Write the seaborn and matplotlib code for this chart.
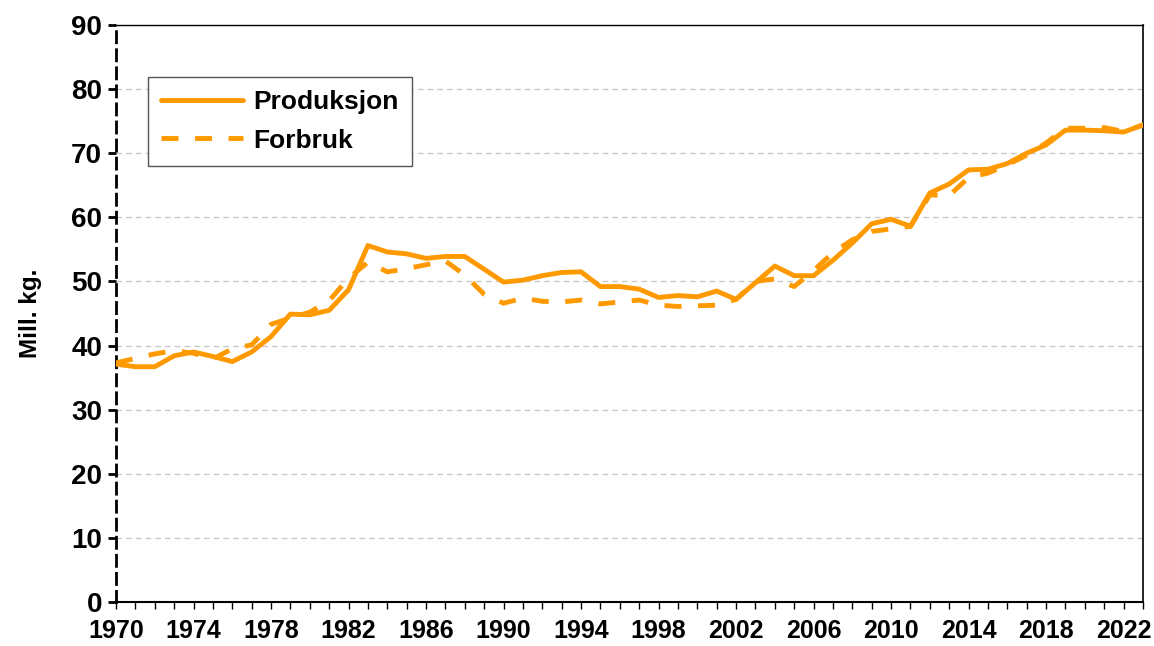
import numpy as np
import pandas as pd
import matplotlib
matplotlib.use("Agg")
import matplotlib.pyplot as plt
from matplotlib.ticker import MultipleLocator
from matplotlib.lines import Line2D
import seaborn as sns

years = list(range(1970, 2024))
produksjon = [37.1, 36.7, 36.7, 38.4, 39.0, 38.3, 37.5, 39.0, 41.4, 44.9,
              44.8, 45.5, 48.7, 55.6, 54.6, 54.3, 53.6, 53.9, 53.9, 51.9,
              49.9, 50.2, 50.9, 51.4, 51.5, 49.2, 49.2, 48.8, 47.5, 47.8,
              47.6, 48.5, 47.2, 49.8, 52.4, 50.9, 50.9, 53.3, 56.0, 59.0,
              59.7, 58.6, 63.8, 65.2, 67.4, 67.5, 68.4, 70.0, 71.3, 73.6,
              73.6, 73.5, 73.3, 74.4]
forbruk = [37.3, 38.0, 38.7, 39.2, 38.8, 37.9, 39.5, 40.1, 43.3, 44.3,
           45.2, 47.0, 50.5, 53.0, 51.5, 52.0, 52.6, 53.2, 51.0, 48.0,
           46.6, 47.4, 46.9, 46.8, 47.1, 46.5, 46.8, 47.1, 46.3, 46.1,
           46.2, 46.3, 47.2, 50.0, 50.4, 49.2, 51.7, 54.5, 56.5, 57.8,
           58.2, 58.6, 63.5, 63.4, 66.2, 66.9, 68.2, 69.7, 71.6, 73.9,
           73.9, 74.0, 73.4, 74.4]
series_names = ["Produksjon", "Forbruk"]
y_ticks = list(range(0, 100, 10))
x_ticks = list(range(1970, 2024, 4))

df = pd.DataFrame({
    "År": years * 2,
    "Verdi": produksjon + forbruk,
    "Serie": [series_names[0]] * len(years) + [series_names[1]] * len(years),
})

sns.set_style("white")
plt.rcParams["font.family"] = ["Liberation Sans", "DejaVu Sans"]
plt.rcParams["font.weight"] = "bold"
plt.rcParams["text.color"] = "black"
plt.rcParams["axes.labelcolor"] = "black"
plt.rcParams["xtick.color"] = "black"
plt.rcParams["ytick.color"] = "black"

fig = plt.figure(figsize=(11.54, 6.46), dpi=100)
ax = fig.add_axes([116 / 1154, 1 - 602 / 646, (1143 - 116) / 1154, (602 - 25) / 646])

orange = "#FF9900"
dash = (3.5, 3.4)
sns.lineplot(data=df, x="År", y="Verdi", hue="Serie", style="Serie",
             palette={series_names[0]: orange, series_names[1]: orange},
             dashes={series_names[0]: "", series_names[1]: dash},
             linewidth=3.5, ax=ax, legend=False, zorder=3)

ax.set_xlim(1970, 2023)
ax.set_ylim(0, 90)
ax.set_yticks(y_ticks)
ax.set_xticks(x_ticks)
ax.xaxis.set_minor_locator(MultipleLocator(1))
ax.grid(axis="y", color="#c8c8c8", linestyle=(0, (4, 3)), linewidth=1)
ax.set_axisbelow(True)

ax.tick_params(axis="y", which="major", direction="out", length=6, width=2,
               labelsize=20, pad=4, left=True, colors="black")
ax.tick_params(axis="x", which="both", direction="out", length=5, width=1,
               labelsize=18, pad=7, bottom=True, colors="black")
for lbl in ax.get_xticklabels() + ax.get_yticklabels():
    lbl.set_fontweight("bold")
    lbl.set_color("black")

for side in ["top", "right", "bottom"]:
    ax.spines[side].set_visible(True)
    ax.spines[side].set_color("black")
ax.spines["top"].set_linewidth(1)
ax.spines["right"].set_linewidth(1.2)
ax.spines["bottom"].set_linewidth(1.5)
ax.spines["left"].set_color("black")
ax.spines["left"].set_linewidth(2)
ax.spines["left"].set_linestyle((0, (4, 2.5)))

ax.set_xlabel("")
ax.set_ylabel("Mill. kg.", fontsize=17.5, fontweight="bold", color="black")
ax.yaxis.set_label_coords(-0.072, 0.5)

handles = [Line2D([], [], color=orange, lw=3.5),
           Line2D([], [], color=orange, lw=3.5, dashes=dash)]
leg = ax.legend(handles, series_names, loc="upper left",
                bbox_to_anchor=((148 - 116) / 1027, (602 - 77) / 577),
                prop={"weight": "bold", "size": 19}, handlelength=3.1,
                frameon=True, fancybox=False, borderpad=0.5, labelspacing=0.55,
                borderaxespad=0, handletextpad=0.38)
leg.get_frame().set_edgecolor("#555555")
leg.get_frame().set_linewidth(1)
leg.get_frame().set_alpha(1)
for t in leg.get_texts():
    t.set_color("black")

fig.savefig("out.png", dpi=100)
